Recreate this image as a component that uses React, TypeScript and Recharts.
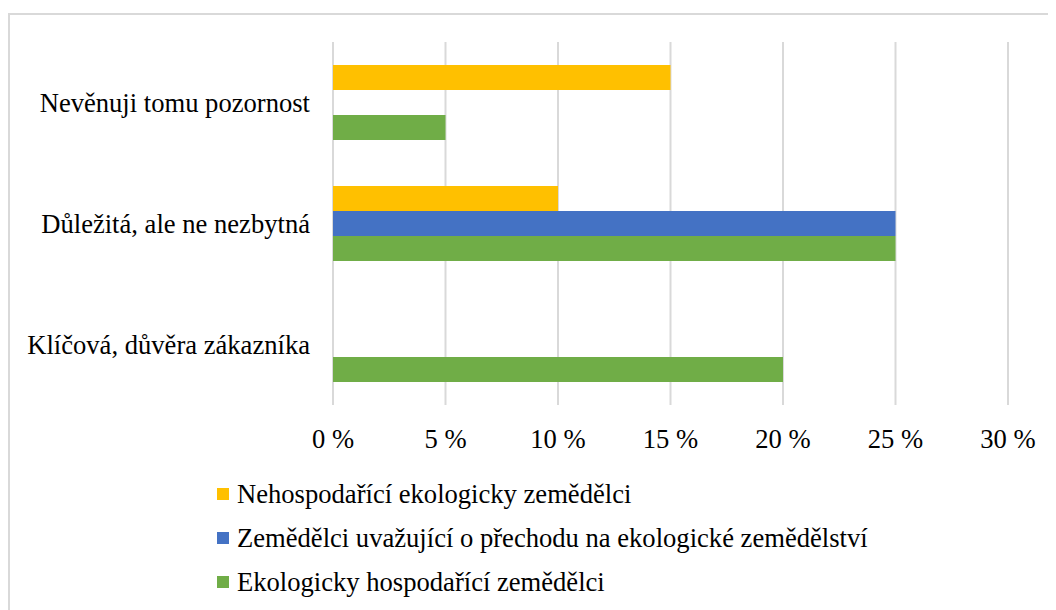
import React from "react";
import { BarChart, Bar, XAxis, YAxis, CartesianGrid, Legend } from "recharts";

const categories = [
  "Nevěnuji tomu pozornost",
  "Důležitá, ale ne nezbytná",
  "Klíčová, důvěra zákazníka",
];
const nonOrganic = [15, 10, 0];
const considering = [0, 25, 0];
const organic = [5, 25, 20];
const xTicks = [0, 5, 10, 15, 20, 25, 30];

const SERIES = [
  { key: "nonOrganic", name: "Nehospodařící ekologicky zemědělci", color: "#FFC000" },
  { key: "considering", name: "Zemědělci uvažující o přechodu na ekologické zemědělství", color: "#4472C4" },
  { key: "organic", name: "Ekologicky hospodařící zemědělci", color: "#70AD47" },
];

const FONT = '"Liberation Serif", "Times New Roman", serif';
const GRID = "#d9d9d9";
const TICK = { fill: "#000", fontSize: 26.6, fontFamily: FONT };

const data = categories.map((c, i) => ({
  name: c,
  nonOrganic: nonOrganic[i],
  considering: considering[i],
  organic: organic[i],
}));

function LegendList() {
  return (
    <div style={{ fontFamily: FONT, fontSize: 26.6, color: "#000" }}>
      {SERIES.map((s) => (
        <div key={s.key} style={{ display: "flex", alignItems: "center", height: 44, whiteSpace: "nowrap" }}>
          <span style={{ display: "inline-block", width: 12, height: 12, background: s.color, marginRight: 8 }} />
          {s.name}
        </div>
      ))}
    </div>
  );
}

export default function App() {
  return (
    <div style={{ position: "relative", width: 1048, height: 602, overflow: "hidden", background: "#fff" }}>
      <div
        style={{
          position: "absolute",
          left: 0,
          top: 5,
          width: 1080,
          height: 640,
          border: `2px solid ${GRID}`,
          boxSizing: "border-box",
        }}
      />
      <div style={{ position: "absolute", left: 0, top: 0 }}>
        <BarChart
          width={1048}
          height={602}
          data={data}
          layout="vertical"
          margin={{ top: 34, right: 48, bottom: 167, left: 0 }}
          barSize={25}
          barGap={0}
        >
          <CartesianGrid horizontal={false} stroke={GRID} strokeWidth={2} />
          <XAxis
            type="number"
            domain={[0, 30]}
            ticks={xTicks}
            tickFormatter={(v) => `${v} %`}
            axisLine={false}
            tickLine={false}
            tick={TICK}
            tickMargin={18}
            height={38}
          />
          <YAxis
            type="category"
            dataKey="name"
            width={325}
            axisLine={false}
            tickLine={false}
            tick={TICK}
            tickMargin={17}
          />
          <Legend
            layout="horizontal"
            align="center"
            verticalAlign="middle"
            content={() => <LegendList />}
            wrapperStyle={{ position: "absolute", left: 209, top: 464, width: "auto" }}
          />
          {SERIES.map((s) => (
            <Bar key={s.key} dataKey={s.key} name={s.name} fill={s.color} isAnimationActive={false} />
          ))}
        </BarChart>
      </div>
    </div>
  );
}
